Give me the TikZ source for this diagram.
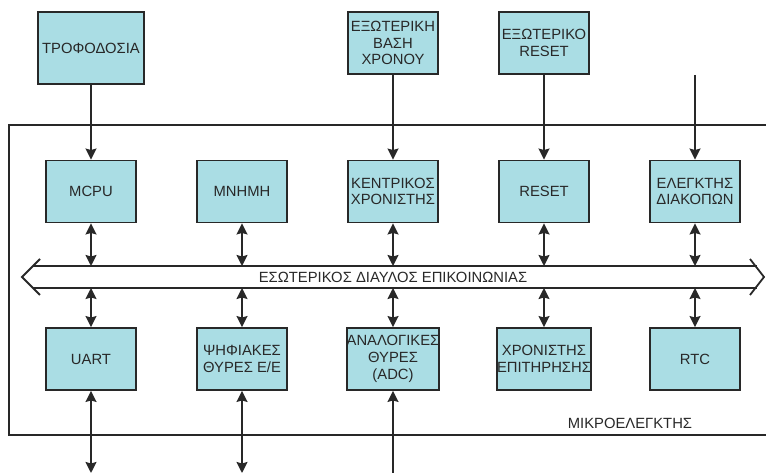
\documentclass[tikz,border=0pt]{standalone}
\usepackage{fontspec}
\setmainfont{Liberation Sans}
\usetikzlibrary{arrows.meta, positioning}
\definecolor{boxfill}{RGB}{170,221,228}
\definecolor{linegray}{RGB}{40,40,40}
\definecolor{textgray}{RGB}{40,40,40}
\tikzset{%
>={Stealth[width=11pt,length=11pt,inset=1.5pt]},
  % Specifications for style of nodes:
            block/.style = {rectangle, draw=linegray, line width=1.9pt,
                            fill=boxfill, minimum width=90pt, minimum
                            height=62pt, inner sep=0pt, text=textgray,
                            font=\fontsize{14.8}{16.8}\selectfont},
            plain/.style = {inner sep=0pt, text=textgray,
                            font=\fontsize{14.8}{16.8}\selectfont},
            wire/.style = {draw=linegray, line width=1.8pt}
}
\begin{document}
\begin{tikzpicture}[x=1pt, y=1pt, node distance=151pt, align=center]
                        \useasboundingbox (0,0) rectangle (766,474);
                        % inner row
                        \node[block] (mcpu) at (91,282.5) {MCPU};
                        \node[block] (mnimi)[right of=mcpu] {ΜΝΗΜΗ};
                        \node[block] (kentrikos)[right of=mnimi] {ΚΕΝΤΡΙΚΟΣ\\ΧΡΟΝΙΣΤΗΣ};
                        \node[block] (reset)[right of=kentrikos] {RESET};
                        \node[block] (elegktis)[right of=reset] {ΕΛΕΓΚΤΗΣ\\ΔΙΑΚΟΠΩΝ};
                        % lower row
                        \node[block] (uart)[below of=mcpu, node distance=167.5pt] {UART};
                        \node[block] (psifiakes)[right of=uart] {ΨΗΦΙΑΚΕΣ\\ΘΥΡΕΣ Ε/Ε};
                        \node[block] (analogikes)[right of=psifiakes] {ΑΝΑΛΟΓΙΚΕΣ\\ΘΥΡΕΣ\\(ADC)};
                        \node[block] (epitirisi)[right of=analogikes] {ΧΡΟΝΙΣΤΗΣ\\ΕΠΙΤΗΡΗΣΗΣ};
                        \node[block] (rtc)[right of=epitirisi] {RTC};
                        % outside
                        \node[block, minimum width=106pt, minimum height=72pt] (trofodosia)[above of=mcpu, node distance=143.5pt] {ΤΡΟΦΟΔΟΣΙΑ};
                        \node[block] (vasi)[above of=kentrikos, node distance=148.5pt] {ΕΞΩΤΕΡΙΚΗ\\ΒΑΣΗ\\ΧΡΟΝΟΥ};
                        \node[block] (extreset)[above of=reset, node distance=148.5pt] {ΕΞΩΤΕΡΙΚΟ\\RESET};
                        \coordinate (irq) at (695,399);
                        % chip outline
                        \coordinate (chipTR) at (766,349);
                        \coordinate (chipTL) at (9,349);
                        \coordinate (chipBL) at (9,39);
                        \coordinate (chipBR) at (766,39);
                        \draw[wire] (chipTR) -- (chipTL) -- (chipBL) -- (chipBR);
                        \node[plain] (chip) at (630,51) {ΜΙΚΡΟΕΛΕΓΚΤΗΣ};
                        % bus
                        \coordinate (busL) at (22,197);
                        \coordinate (busR) at (764,197);
                        \coordinate (bustop) at (0,208);
                        \coordinate (busbot) at (0,186);
                        \coordinate (edge) at (0,1);
                        \draw[wire] (40,215) -- (busL) -- (40,179);
                        \draw[wire] (750,215) -- (busR) -- (750,179);
                        \draw[wire] (33,208) -- (757,208);
                        \draw[wire] (33,186) -- (757,186);
                        \node[plain] (bus) at (393,197) {ΕΣΩΤΕΡΙΚΟΣ ΔΙΑΥΛΟΣ ΕΠΙΚΟΙΝΩΝΙΑΣ};
                        % inputs
                        \draw[wire,->] (trofodosia) -- (mcpu);
                        \draw[wire,->] (vasi) -- (kentrikos);
                        \draw[wire,->] (extreset) -- (reset);
                        \draw[wire,->] (irq) -- (elegktis);
                        % bus links
                        \draw[wire,<->] (mcpu) -- (mcpu |- bustop);
                        \draw[wire,<->] (mnimi) -- (mnimi |- bustop);
                        \draw[wire,<->] (kentrikos) -- (kentrikos |- bustop);
                        \draw[wire,<->] (reset) -- (reset |- bustop);
                        \draw[wire,<->] (elegktis) -- (elegktis |- bustop);
                        \draw[wire,<->] (uart) -- (uart |- busbot);
                        \draw[wire,<->] (psifiakes) -- (psifiakes |- busbot);
                        \draw[wire,<->] (analogikes) -- (analogikes |- busbot);
                        \draw[wire,<->] (epitirisi) -- (epitirisi |- busbot);
                        \draw[wire,<->] (rtc) -- (rtc |- busbot);
                        % ports
                        \draw[wire,<->] (uart) -- (uart |- edge);
                        \draw[wire,<->] (psifiakes) -- (psifiakes |- edge);
                        \draw[wire,<-] (analogikes) -- (analogikes |- edge);
                    \end{tikzpicture}
\end{document}
